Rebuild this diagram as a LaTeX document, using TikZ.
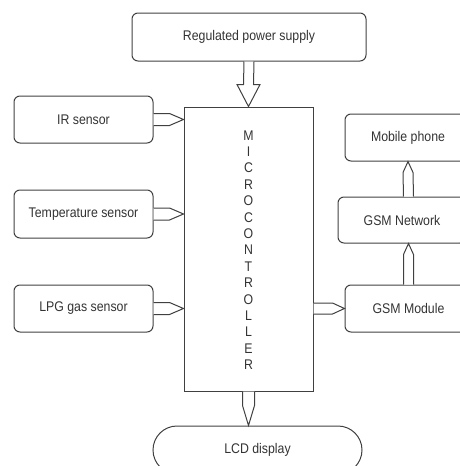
\documentclass[tikz,border=0pt]{standalone}
\usepackage{fontspec}
\setmainfont[FakeStretch=0.88]{Liberation Sans}
\usetikzlibrary{calc}
\definecolor{ln}{HTML}{404040}
\definecolor{tx}{HTML}{333333}
\begin{document}
\begin{tikzpicture}[x=1pt,y=-1pt,
  box/.style={draw=ln, line width=1pt, rounded corners=6pt, text=tx,
    font=\fontsize{14}{16}\selectfont, inner sep=0pt, anchor=center},
  mcbox/.style={draw=ln, line width=1pt, inner sep=0pt, anchor=center},
  arr/.style={draw=ln, line width=1pt, fill=white, line join=miter}]
\useasboundingbox (0,0) rectangle (460,466);
\clip (0,0) rectangle (460,466);
% nodes
\node[box, minimum width=234pt, minimum height=48pt] (rps) at (249,37) {Regulated power supply};
\node[mcbox, minimum width=129pt, minimum height=284pt] (mc) at (248.5,249) {};
\node[text=tx, font=\fontsize{14}{16.4}\selectfont, align=center] (mctext) at (248.5,250)
  {M\\I\\C\\R\\O\\C\\O\\N\\T\\R\\O\\L\\L\\E\\R};
\node[box, minimum width=139pt, minimum height=47pt] (ir) at (83.5,119.5) {IR sensor};
\node[box, minimum width=139pt, minimum height=48pt] (temp) at (83.5,214) {Temperature sensor};
\node[box, minimum width=139pt, minimum height=47pt] (lpg) at (83.5,308.5) {LPG gas sensor};
\node[box, minimum width=126pt, minimum height=47pt] (mob) at (408,137.5) {Mobile phone};
\node[box, minimum width=128pt, minimum height=46pt] (net) at (402,220) {GSM Network};
\node[box, minimum width=127pt, minimum height=47pt] (mod) at (408.5,308.5) {GSM Module};
\node[box, minimum width=209pt, minimum height=48pt, rounded corners=24pt] (lcd) at (257.5,450) {LCD display};
% power arrow
\draw[arr] ($(rps.south)+(-5,0)$) -- ($(mc.north)+(-5,-22)$) -- ++(-6.5,0) -- (mc.north)
  -- ($(mc.north)+(11.5,-22)$) -- ++(-6.5,0) -- ($(rps.south)+(5,0)$);
% sensor arrows
\foreach \s in {ir,temp,lpg}{
  \draw[arr] ($(\s.east)+(0,-6)$) -- ($(\s.east -| mc.west)+(-14,-6)$) -- (\s.east -| mc.west)
    -- ($(\s.east -| mc.west)+(-14,6)$) -- ($(\s.east)+(0,6)$);
}
% mc -> gsm module
\draw[arr] ($(mod.west -| mc.east)+(0,-5.5)$) -- ($(mod.west)+(-12,-5.5)$) -- (mod.west)
  -- ($(mod.west)+(-12,5.5)$) -- ($(mod.west -| mc.east)+(0,5.5)$);
% mc -> lcd
\draw[arr] ($(mc.south)+(-6,0)$) -- ($(mc.south |- lcd.north)+(-6,-20)$) -- (mc.south |- lcd.north)
  -- ($(mc.south |- lcd.north)+(6,-20)$) -- ($(mc.south)+(6,0)$);
% module -> network
\draw[arr] ($(mod.north)+(-5,0)$) -- ($(mod.north |- net.south)+(-5,11)$) -- (mod.north |- net.south)
  -- ($(mod.north |- net.south)+(5,11)$) -- ($(mod.north)+(5,0)$);
% network -> mobile
\draw[arr] ($(mod.north |- net.north)+(-5,0)$) -- ($(mob.south)+(-5,11)$) -- (mob.south)
  -- ($(mob.south)+(5,11)$) -- ($(mod.north |- net.north)+(5,0)$);
\end{tikzpicture}
\end{document}
